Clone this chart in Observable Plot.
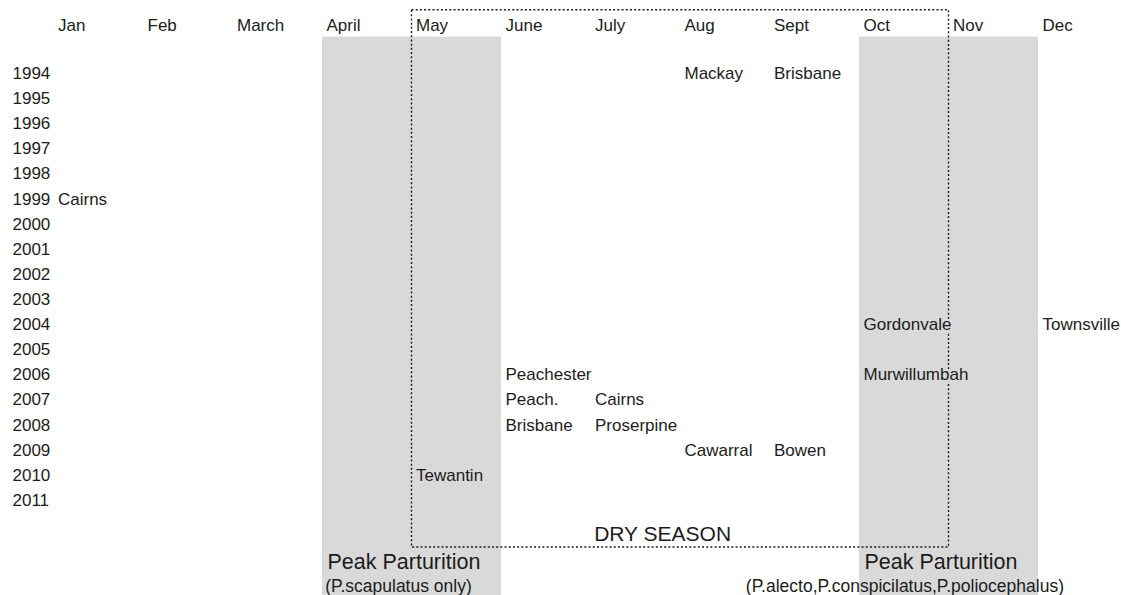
<!DOCTYPE html>
<html>
<head>
<meta charset="utf-8">
<script src="https://cdn.jsdelivr.net/npm/d3@7"></script>
<script src="https://cdn.jsdelivr.net/npm/@observablehq/plot@0.6"></script>
<style>
  html, body { margin: 0; padding: 0; background: #fff; }
  svg { font-family: "Liberation Sans", Arial, sans-serif; display: block; }
</style>
</head>
<body>
<div id="chart"></div>
<script>
// Month column labels (index 0 = Jan)
const months = ["Jan", "Feb", "March", "April", "May", "June", "July", "Aug", "Sept", "Oct", "Nov", "Dec"];
// Year rows
const years = d3.range(1994, 2012);
// Records: year, month index, place
const recordYear  = [1994, 1994, 1999, 2004, 2004, 2006, 2006, 2007, 2007, 2008, 2008, 2009, 2009, 2010];
const recordMonth = [7, 8, 0, 9, 11, 5, 9, 5, 6, 5, 6, 7, 8, 4];
const recordPlace = ["Mackay", "Brisbane", "Cairns", "Gordonvale", "Townsville", "Peachester", "Murwillumbah",
                     "Peach.", "Cairns", "Brisbane", "Proserpine", "Cawarral", "Bowen", "Tewantin"];
// Peak parturition bands (month start, month end)
const bandStart = [3, 9];
const bandEnd   = [5, 11];
const bandLabel = ["Peak Parturition", "Peak Parturition"];
const bandNote  = ["(P.scapulatus only)", "(P.alecto,P.conspicilatus,P.poliocephalus)"];
// Dry season (month start, month end)
const dryStart = 4, dryEnd = 10;
const dryLabel = "DRY SEASON";

// Row positions (in year units) for header/footer rows
const headerRow = 1992.1, bandTop = 1992.55, bandBottom = 2015, dryTop = 1991.48, dryBottom = 2012.87;
const dryLabelRow = 2012.35, peakRow = 2013.47, noteRow = 2014.4;
const noteX = [3.03, 7.73];

const records = recordYear.map((y, i) => ({year: y, month: recordMonth[i], place: recordPlace[i]}));
const bands = bandStart.map((s, i) => ({s, e: bandEnd[i], label: bandLabel[i], note: bandNote[i], nx: noteX[i]}));
const monthData = months.map((m, i) => ({m, i}));
const inLateBand = d => d.month >= bandStart[1] && d.month < bandEnd[1];

const ink = "#1c1c1c";
const band = "#d9d9d9";

const chart = Plot.plot({
  width: 1121,
  height: 595,
  margin: 0,
  x: {type: "linear", domain: [0, 12], range: [53.5, 53.5 + 12 * 89.5], axis: null},
  y: {type: "linear", domain: [1994, 2011], range: [73, 500], axis: null},
  style: {fontFamily: "'Liberation Sans', Arial, sans-serif", color: ink},
  marks: [
    Plot.rect(bands, {x1: "s", x2: "e", y1: () => bandTop, y2: () => bandBottom, fill: band}),
    Plot.rect([{s: dryStart, e: dryEnd}], {x1: "s", x2: "e", y1: () => dryTop, y2: () => dryBottom,
      fill: "none", stroke: ink, strokeWidth: 1.4, strokeDasharray: "2,2.2"}),
    Plot.text(monthData, {x: "i", y: () => headerRow, text: "m", textAnchor: "start", dx: 4, fontSize: 17, fill: ink}),
    Plot.text(years, {y: d => d, text: d => String(d), frameAnchor: "left", dx: 12, textAnchor: "start", fontSize: 17, fill: ink}),
    Plot.text(records.filter(d => !inLateBand(d)), {x: "month", y: "year", text: "place", textAnchor: "start", dx: 4, fontSize: 17, fill: ink}),
    Plot.text(records.filter(inLateBand), {x: "month", y: "year", text: "place", textAnchor: "start", dx: 4, fontSize: 17, fill: ink,
      stroke: band, strokeWidth: 5}),
    Plot.text([dryLabel], {x: () => 6.8, y: () => dryLabelRow, text: d => d, textAnchor: "middle", fontSize: 21, fill: ink}),
    Plot.text(bands, {x: "s", y: () => peakRow, text: "label", textAnchor: "start", dx: 5, fontSize: 21.5, fill: ink}),
    Plot.text(bands, {x: "nx", y: () => noteRow, text: "note", textAnchor: "start", fontSize: 17.5, fill: ink})
  ]
});
document.getElementById("chart").appendChild(chart);
</script>
</body>
</html>
